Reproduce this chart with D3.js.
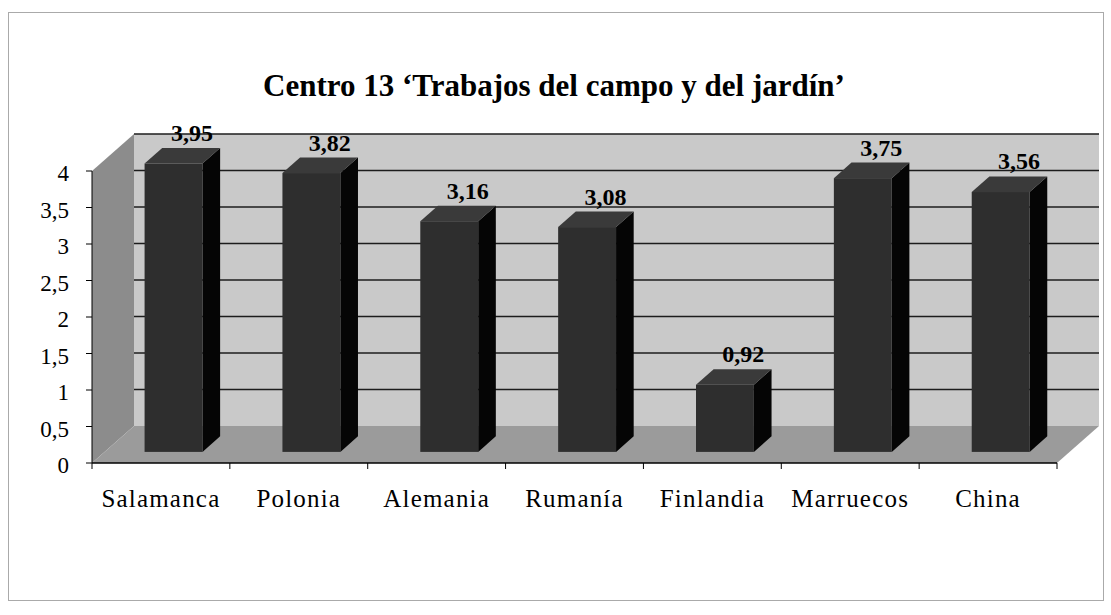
<!DOCTYPE html>
<html>
<head>
<meta charset="utf-8">
<script src="https://cdnjs.cloudflare.com/ajax/libs/d3/7.8.5/d3.min.js"></script>
<style>
  body { margin: 0; background: #fff; }
  svg text { font-family: "Times New Roman", "Liberation Serif", Tinos, "DejaVu Serif", serif; fill: #000; }
</style>
</head>
<body>
<div id="chart"></div>
<script>
// Data
var title = "Centro 13 \u2018Trabajos del campo y del jard\u00edn\u2019";
var categories = ["Salamanca", "Polonia", "Alemania", "Ruman\u00eda", "Finlandia", "Marruecos", "China"];
var values = [3.95, 3.82, 3.16, 3.08, 0.92, 3.75, 3.56];
var valueLabels = ["3,95", "3,82", "3,16", "3,08", "0,92", "3,75", "3,56"];
var yTicks = [0, 0.5, 1, 1.5, 2, 2.5, 3, 3.5, 4];
var yTickLabels = ["0", "0,5", "1", "1,5", "2", "2,5", "3", "3,5", "4"];

// Configuration
var width = 1111, height = 615;
var depthX = 42, depthY = -37;      // oblique offset of the back wall
var barFront = 0.3, barDepth = 0.42; // bar placement inside the depth
var serif = "'Times New Roman', 'Liberation Serif', Tinos, 'DejaVu Serif', serif";

var svg = d3.select("#chart").append("svg")
    .attr("width", width)
    .attr("height", height);

svg.append("rect").attr("width", width).attr("height", height).attr("fill", "#fff");

// outer frame
svg.append("rect")
    .attr("x", 8.5).attr("y", 12.5)
    .attr("width", 1095).attr("height", 588)
    .attr("fill", "none")
    .attr("stroke", "#555")
    .attr("stroke-dasharray", "1,1");

var x = d3.scaleBand()
    .domain(categories)
    .range([92, 1057])
    .paddingInner(0.58)
    .paddingOuter(0.29);

var y = d3.scaleLinear()
    .domain([0, 4])
    .range([463, 171]);

var x0 = x.range()[0], x1 = x.range()[1];
var yBase = y(0), yTop = y(4);

// Back wall
svg.append("rect")
    .attr("x", x0 + depthX)
    .attr("y", yTop + depthY)
    .attr("width", x1 - x0)
    .attr("height", yBase - yTop)
    .attr("fill", "#c9c9c9");

// Gridlines on the back wall
svg.append("g").selectAll("line")
    .data(yTicks.filter(function(d) { return d > 0; }))
    .enter()
    .append("line")
    .attr("x1", x0 + depthX)
    .attr("x2", x1 + depthX)
    .attr("y1", function(d) { return y(d) + depthY; })
    .attr("y2", function(d) { return y(d) + depthY; })
    .attr("stroke", "#1c1c1c")
    .attr("stroke-width", 1.6);

// Left side wall
svg.append("polygon")
    .attr("points", [
        [x0, yTop], [x0 + depthX, yTop + depthY],
        [x0 + depthX, yBase + depthY], [x0, yBase]
    ].join(" "))
    .attr("fill", "#8c8c8c");

// Floor
svg.append("polygon")
    .attr("points", [
        [x0, yBase], [x0 + depthX, yBase + depthY],
        [x1 + depthX, yBase + depthY], [x1, yBase]
    ].join(" "))
    .attr("fill", "#9b9b9b");

// Bars
var dfx = barFront * depthX, dfy = barFront * depthY;
var ddx = barDepth * depthX, ddy = barDepth * depthY;
var bw = x.bandwidth();

var bars = svg.append("g").selectAll(".bar")
    .data(values)
    .enter()
    .append("g")
    .attr("class", "bar");

bars.append("polygon")
    .attr("points", function(d, i) {
        var xf = x(categories[i]) + dfx + bw, yt = y(d) + dfy, yb = yBase + dfy;
        return [[xf, yt], [xf + ddx, yt + ddy], [xf + ddx, yb + ddy], [xf, yb]].join(" ");
    })
    .attr("fill", "#050505");

bars.append("polygon")
    .attr("points", function(d, i) {
        var xf = x(categories[i]) + dfx, yt = y(d) + dfy;
        return [[xf, yt], [xf + ddx, yt + ddy], [xf + bw + ddx, yt + ddy], [xf + bw, yt]].join(" ");
    })
    .attr("fill", "#3a3a3a");

bars.append("rect")
    .attr("x", function(d, i) { return x(categories[i]) + dfx; })
    .attr("y", function(d) { return y(d) + dfy; })
    .attr("width", bw)
    .attr("height", function(d) { return yBase - y(d); })
    .attr("fill", "#2e2e2e");

// Value labels
svg.append("g").selectAll("text")
    .data(values)
    .enter()
    .append("text")
    .attr("x", function(d, i) { return x(categories[i]) + bw / 2 + 31; })
    .attr("y", function(d) { return y(d) + dfy + ddy - 7; })
    .attr("text-anchor", "middle")
    .attr("font-family", serif)
    .attr("font-size", "24px")
    .attr("font-weight", "bold")
    .text(function(d, i) { return valueLabels[i]; });

// Axis lines
svg.append("line")
    .attr("x1", x0).attr("x2", x0)
    .attr("y1", yTop).attr("y2", yBase)
    .attr("stroke", "#000");
svg.append("line")
    .attr("x1", x0).attr("x2", x1)
    .attr("y1", yBase).attr("y2", yBase)
    .attr("stroke", "#000").attr("stroke-width", 1.5);

// Y ticks and labels
var yAxisG = svg.append("g");
yAxisG.selectAll("line")
    .data(yTicks)
    .enter()
    .append("line")
    .attr("x1", x0 - 6).attr("x2", x0)
    .attr("y1", function(d) { return y(d); })
    .attr("y2", function(d) { return y(d); })
    .attr("stroke", "#000");
yAxisG.selectAll("text")
    .data(yTicks)
    .enter()
    .append("text")
    .attr("x", 69)
    .attr("y", function(d) { return y(d) + 10; })
    .attr("text-anchor", "end")
    .attr("font-family", serif)
    .attr("font-size", "23px")
    .text(function(d, i) { return yTickLabels[i]; });

// X ticks and labels
var boundaries = categories.map(function(c) { return x(c) - x.step() * x.paddingInner() / 2; });
boundaries.push(x1);
boundaries[0] = x0;
svg.append("g").selectAll("line")
    .data(boundaries)
    .enter()
    .append("line")
    .attr("x1", function(d) { return d; })
    .attr("x2", function(d) { return d; })
    .attr("y1", yBase).attr("y2", yBase + 6)
    .attr("stroke", "#000");

svg.append("g").selectAll("text")
    .data(categories)
    .enter()
    .append("text")
    .attr("x", function(d) { return x(d) + bw / 2; })
    .attr("y", 507)
    .attr("text-anchor", "middle")
    .attr("font-family", serif)
    .attr("font-size", "25px")
    .attr("letter-spacing", "1.2px")
    .text(function(d) { return d; });

// Title
svg.append("text")
    .attr("x", 554)
    .attr("y", 96)
    .attr("text-anchor", "middle")
    .attr("font-family", serif)
    .attr("font-size", "31px")
    .attr("font-weight", "bold")
    .text(title);
</script>
</body>
</html>
